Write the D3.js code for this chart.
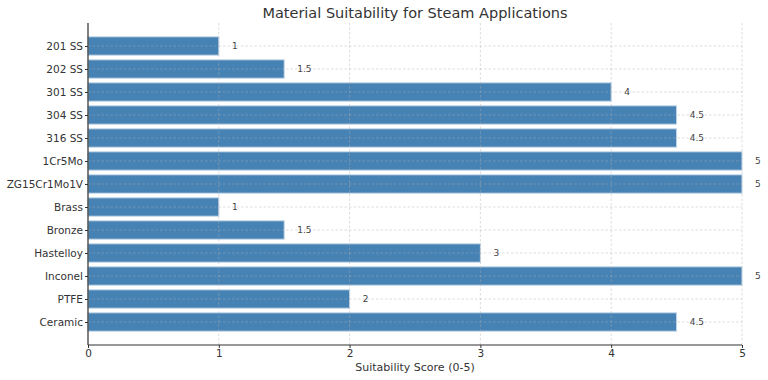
<!DOCTYPE html>
<html><head><meta charset="utf-8">
<script src="https://cdn.jsdelivr.net/npm/d3@7"></script>
<style>body{margin:0;background:#fff;}svg{display:block;font-family:"DejaVu Sans",sans-serif;}</style>
</head><body>
<script>
const materials = ["201 SS","202 SS","301 SS","304 SS","316 SS","1Cr5Mo","ZG15Cr1Mo1V","Brass","Bronze","Hastelloy","Inconel","PTFE","Ceramic"];
const scores = [1,1.5,4,4.5,4.5,5,5,1,1.5,3,5,2,4.5];
const xTicks = [0,1,2,3,4,5];
const title = "Material Suitability for Steam Applications";
const xLabel = "Suitability Score (0-5)";

const W=768,H=380, L=88, R=742, T=23, B=345;
const svg=d3.select("body").append("svg").attr("width",W).attr("height",H);
const x=d3.scaleLinear().domain([0,5]).range([L,R]);
const y=d3.scaleLinear().domain([-1,materials.length]).range([T,B]);
const step=y(1)-y(0), bh=step*0.8;

// bars
svg.append("g").selectAll("rect").data(scores).join("rect")
  .attr("x",x(0)).attr("y",(d,i)=>y(i)-bh/2).attr("width",d=>x(d)-x(0)).attr("height",bh)
  .attr("fill","#4682b4").attr("stroke","#c6d8e8").attr("stroke-width",1);

// grid
const g=svg.append("g").attr("stroke","#b0b0b0").attr("stroke-opacity",0.55).attr("stroke-dasharray","2.5,2").attr("stroke-width",0.8);
xTicks.forEach(t=>g.append("line").attr("x1",x(t)).attr("x2",x(t)).attr("y1",T).attr("y2",B));
materials.forEach((m,i)=>g.append("line").attr("x1",L).attr("x2",R).attr("y1",y(i)).attr("y2",y(i)));

// value labels
svg.append("g").selectAll("text").data(scores).join("text")
  .attr("x",d=>x(d+0.1)).attr("y",(d,i)=>y(i)).attr("dy","0.35em")
  .attr("font-size",9).attr("fill","#444").text(d=>d);

// axes
const xa=svg.append("g").attr("transform",`translate(0,${B})`)
  .call(d3.axisBottom(x).tickValues(xTicks).tickFormat(d3.format("d")).tickSizeOuter(0).tickSize(3).tickPadding(2));
const ya=svg.append("g").attr("transform",`translate(${L},0)`)
  .call(d3.axisLeft(y).tickValues(d3.range(materials.length)).tickFormat(i=>materials[i]).tickSizeOuter(0).tickSize(3).tickPadding(2));
[xa,ya].forEach(a=>{
  a.select(".domain").attr("stroke","#333").attr("stroke-width",1.2);
  a.selectAll(".tick line").attr("stroke","#333");
  a.selectAll(".tick text").attr("font-size",10.5).attr("fill","#333").attr("font-family","DejaVu Sans");
});
xa.select(".domain").attr("d",`M${L},0H${R}`);
ya.select(".domain").attr("d",`M0,${T}V${B}`);

svg.append("text").attr("x",(L+R)/2).attr("y",18).attr("text-anchor","middle")
  .attr("font-size",14.5).attr("fill","#333").text(title);
svg.append("text").attr("x",(L+R)/2).attr("y",371).attr("text-anchor","middle")
  .attr("font-size",11).attr("fill","#333").text(xLabel);
</script>
</body></html>
